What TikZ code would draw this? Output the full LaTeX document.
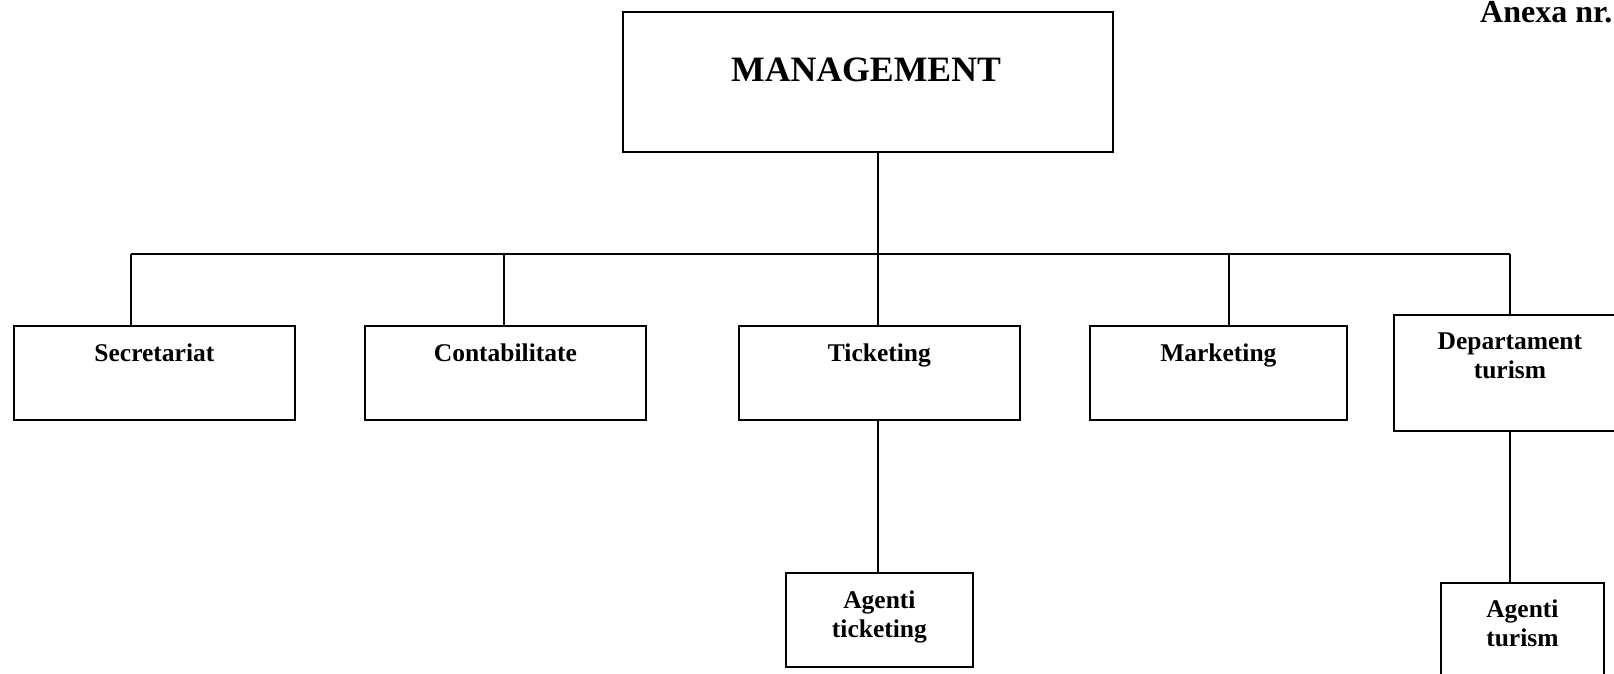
\documentclass[tikz,border=0pt]{standalone}
\usepackage{fontspec}
\setmainfont{Liberation Serif}
\begin{document}
\begin{tikzpicture}[x=1pt,y=-1pt,
  box/.style={draw, line width=1.8pt, inner sep=0pt, anchor=north west},
  lbl/.style={font=\fontsize{25.5}{29}\selectfont\bfseries, align=center, inner sep=0pt, anchor=base},
  big/.style={font=\fontsize{35.7}{40}\selectfont\bfseries, inner sep=0pt, anchor=base},
  link/.style={line width=1.8pt}]
\useasboundingbox (0,0) rectangle (1614,673);
\clip (0,0) rectangle (1614,673);

% top box
\node[box, minimum width=490pt, minimum height=140pt] (mgmt) at (622,11) {};
\node[big] (mgmtT) at (866,81) {MANAGEMENT};

% second row
\node[box, minimum width=281pt, minimum height=94pt] (sec) at (13,325) {};
\node[box, minimum width=281pt, minimum height=94pt] (cont) at (364,325) {};
\node[box, minimum width=281pt, minimum height=94pt] (tick) at (738,325) {};
\node[box, minimum width=257pt, minimum height=94pt] (mark) at (1089,325) {};
\node[box, minimum width=232pt, minimum height=116pt] (dep) at (1393,314) {};

% multi-line labels are placed by the baseline of their last line
\node[lbl] (secT) at (sec.north |- 0,361) {Secretariat};
\node[lbl] (contT) at (cont.north |- 0,361) {Contabilitate};
\node[lbl] (tickT) at (tick.north |- 0,361) {Ticketing};
\node[lbl] (markT) at (mark.north |- 0,361) {Marketing};
\node[lbl] (depT) at (dep.north |- 0,378.5) {Departament\\turism};

% third row
\node[box, minimum width=187pt, minimum height=94pt] (agt) at (785,572) {};
\node[box, minimum width=163pt, minimum height=110pt] (agu) at (1440,582) {};
\node[lbl] (agtT) at (agt.north |- 0,637.5) {Agenti\\ticketing};
\node[lbl] (aguT) at (agu.north |- 0,646.5) {Agenti\\turism};

% heading
\node[font=\fontsize{32}{36}\selectfont\bfseries, inner sep=0pt, anchor=base west] (anexa) at (1480,22) {Anexa nr.};

% branching lines
\coordinate (hub) at (878,254);
\coordinate (dSec) at (131,254);
\coordinate (dCont) at (504,254);
\coordinate (dTick) at (878,254);
\coordinate (dMark) at (1229,254);
\coordinate (dDep) at (1510,254);
\draw[link] (mgmt.south -| hub) -- (hub);
\draw[link] (dSec) -- (dDep);
\draw[link] (dSec) -- (sec.north -| dSec);
\draw[link] (dCont) -- (cont.north -| dCont);
\draw[link] (dTick) -- (tick.north -| dTick);
\draw[link] (dMark) -- (mark.north -| dMark);
\draw[link] (dDep) -- (dep.north -| dDep);
\draw[link] (tick.south -| dTick) -- (agt.north -| dTick);
\draw[link] (dep.south -| dDep) -- (agu.north -| dDep);
\end{tikzpicture}
\end{document}
